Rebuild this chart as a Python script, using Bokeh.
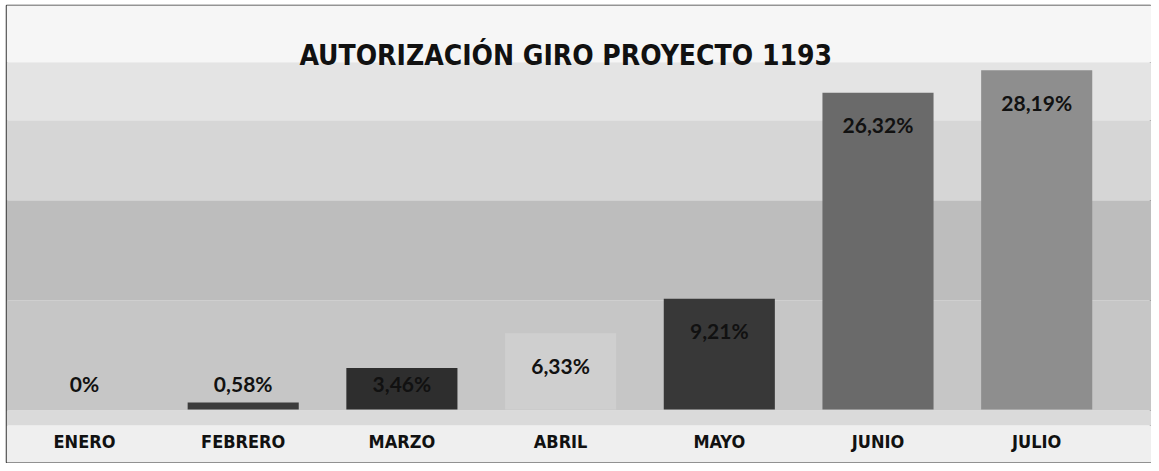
from bokeh.plotting import figure
from bokeh.models import ColumnDataSource, Range1d, BoxAnnotation, Label
from bokeh.core.properties import value
from bokeh.embed import file_html
from bokeh.resources import INLINE

# ---- data ----
months = ["ENERO", "FEBRERO", "MARZO", "ABRIL", "MAYO", "JUNIO", "JULIO"]
percent = [0.0, 0.58, 3.46, 6.33, 9.21, 26.32, 28.19]
bar_colors = ["#3a3a3a", "#3c3c3c", "#2e2e2e", "#cfcfcf", "#383838", "#6a6a6a", "#8e8e8e"]
title_text = "AUTORIZACIÓN  GIRO PROYECTO 1193"

def fmt(v):
    if v == 0:
        return "0%"
    return f"{v:.2f}".replace(".", ",") + "%"

W, H = 1151, 463
ML, MT, MB, MR = 6, 5, 1, 0
FW, FH = W - ML - MR, H - MT - MB
PPU = 12.03          # pixels per percent unit
BASE = 409           # baseline pixel row (page)
X_PX = 158.7         # pixels per category
X0 = 84              # page x of first category centre

idx = list(range(len(months)))
labels = [fmt(v) for v in percent]
lab_y = [max(v - 32 / PPU, 26 / PPU) for v in percent]

src = ColumnDataSource(dict(x=idx, top=percent, color=bar_colors,
                            lab=labels, lab_y=lab_y, month=months))

xs = -(X0 - ML) / X_PX
p = figure(width=W, height=H, output_backend="svg", toolbar_location=None,
           x_range=Range1d(xs, xs + FW / X_PX),
           y_range=Range1d(-(MT + FH - BASE) / PPU, (BASE - MT) / PPU),
           min_border=0, min_border_left=ML, min_border_right=MR,
           min_border_top=MT, min_border_bottom=MB)
p.xaxis.visible = False
p.yaxis.visible = False
p.grid.visible = False
p.background_fill_color = "#f4f4f4"
p.border_fill_color = "#ffffff"
p.outline_line_color = "#333333"
p.outline_line_width = 1.5

def sy(screen_y):
    return (BASE - screen_y) / PPU

bands = [(0, 62, "#f6f6f6"), (62, 120, "#e4e4e4"), (120, 200, "#d6d6d6"),
         (200, 300, "#bdbdbd"), (300, 410, "#c6c6c6"), (410, 425, "#dadada"),
         (425, 470, "#efefef")]
for top, bot, col in bands:
    p.add_layout(BoxAnnotation(top=sy(top), bottom=sy(bot), fill_color=col,
                               fill_alpha=1.0, line_color=None, level="underlay"))

p.vbar(x="x", top="top", bottom=0, width=0.70, source=src,
       fill_color="color", line_color=None)

p.text(x="x", y="lab_y", text="lab", source=src,
       text_font=value("Lato"), text_font_style="bold", text_font_size="21px",
       text_align="center", text_baseline="middle", text_color="#111111")

p.text(x="x", y=0, text="month", source=src, y_offset=32,
       text_font=value("DejaVu Sans Condensed"),
       text_font_style="bold", text_font_size="18px",
       text_align="center", text_baseline="middle", text_color="#111111")

p.add_layout(Label(x=(len(months) - 1) / 2 + 0.06, y=sy(55), text=title_text,
                   text_font="DejaVu Sans Condensed",
                   text_font_style="bold", text_font_size="28px",
                   text_align="center", text_baseline="middle",
                   text_color="#111111"))

open("out.html", "w").write(file_html(p, INLINE))
